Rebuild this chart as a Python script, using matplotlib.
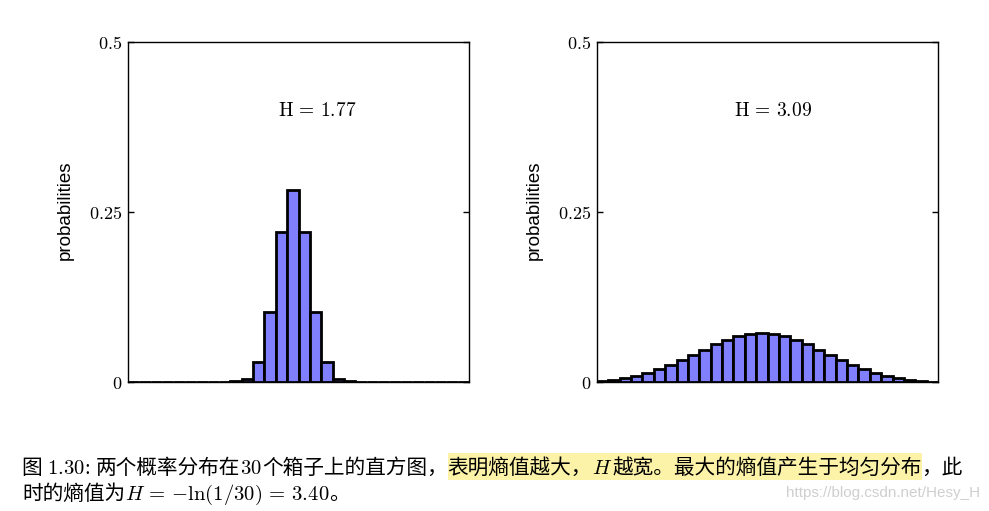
import matplotlib
matplotlib.use("Agg")
import matplotlib.pyplot as plt
from matplotlib.transforms import IdentityTransform
from matplotlib.patches import Rectangle

plt.rcParams['mathtext.fontset'] = 'cm'

# ---- data ----
bins = list(range(30))
probs_narrow = [0, 0, 0, 0, 0, 0, 0, 0, 0.0003, 0.001, 0.005, 0.030, 0.103, 0.2206,
                0.283, 0.2206, 0.103, 0.030, 0.005, 0.001, 0.0003,
                0, 0, 0, 0, 0, 0, 0, 0, 0]
probs_wide = [0.001, 0.0025, 0.0054, 0.0088, 0.0127, 0.0186, 0.025, 0.032, 0.040, 0.047,
              0.0554, 0.0618, 0.0676, 0.0706, 0.0725, 0.0706, 0.0676, 0.0618, 0.0554, 0.047,
              0.040, 0.032, 0.025, 0.0186, 0.0127, 0.0088, 0.0054, 0.0025, 0.001, 0.0005]
entropy_labels = [r'$\mathrm{H\,=\,1.77}$', r'$\mathrm{H\,=\,3.09}$']
ytick_vals = [0, 0.25, 0.5]
ytick_labels = [r'$0$', r'$0.25$', r'$0.5$']
ylabel = 'probabilities'

W, H = 989, 511
fig = plt.figure(figsize=(W / 100, H / 100), dpi=100)

panels = [(128, probs_narrow, entropy_labels[0], 0.554),
          (597, probs_wide, entropy_labels[1], 0.516)]
for left_px, probs, lab, tx in panels:
    ax = fig.add_axes([left_px / W, (H - 382) / H, 341 / W, 340 / H])
    ax.bar(bins, probs, width=1.0, color='#8080ff', edgecolor='black',
           linewidth=2.0, zorder=3)
    ax.set_xlim(-0.5, 29.5)
    ax.set_ylim(0, 0.5)
    ax.set_xticks([])
    ax.set_yticks(ytick_vals)
    ax.set_yticklabels(ytick_labels, fontsize=13)
    ax.tick_params(axis='y', direction='in', length=4, width=1, left=True,
                   right=True, pad=4)
    for s in ax.spines.values():
        s.set_linewidth(1.0)
    ax.set_ylabel(ylabel, fontsize=13.5, family='Liberation Sans')
    ax.yaxis.set_label_coords(-0.158, 0.505)
    ax.text(tx, 0.4, lab, transform=ax.get_yaxis_transform(), ha='center',
            va='center', fontsize=14)

# ---- caption ----
renderer = fig.canvas.get_renderer()
cjk = ['Noto Sans CJK SC', 'DejaVu Sans']
FS = 14.9


def draw_line(x0, y, segs):
    x = x0
    extents = []
    for txt, kw in segs:
        t = fig.text(x, y, txt, transform=IdentityTransform(), va='baseline',
                     ha='left', fontsize=FS, **kw)
        bb = t.get_window_extent(renderer)
        extents.append((x, x + bb.width))
        x += bb.width
    return extents


line1 = [
    ('图 ', dict(family=cjk)),
    (r'$\mathrm{1.30}$', dict()),
    (': ', dict(family='Liberation Serif')),
    ('两个概率分布在', dict(family=cjk)),
    (r'$\mathrm{30}$', dict()),
    ('个箱子上的直方图，', dict(family=cjk)),
    ('表明熵值越大，', dict(family=cjk)),
    (r'$H$', dict()),
    ('越宽。最大的熵值产生于均匀分布', dict(family=cjk)),
    ('，此', dict(family=cjk)),
]
ext = draw_line(22, H - 474, line1)
hx0, hx1 = ext[6][0], ext[8][1]
fig.patches.append(Rectangle((hx0, H - 480), hx1 - hx0, 27,
                             transform=IdentityTransform(), facecolor='#fdf3a8',
                             edgecolor='none', zorder=-1))

line2 = [
    ('时的熵值为', dict(family=cjk)),
    (r'$H\,=\,{-}\ln(1/30)\,=\,3.40$', dict()),
    ('。', dict(family=cjk)),
]
draw_line(22, H - 500, line2)

fig.text(980, H - 493, 'https://blog.csdn.net/Hesy_H', transform=IdentityTransform(),
         ha='right', va='center', fontsize=11, color='#cfcfcf',
         family='Liberation Sans')

fig.savefig('out.png', dpi=100)
